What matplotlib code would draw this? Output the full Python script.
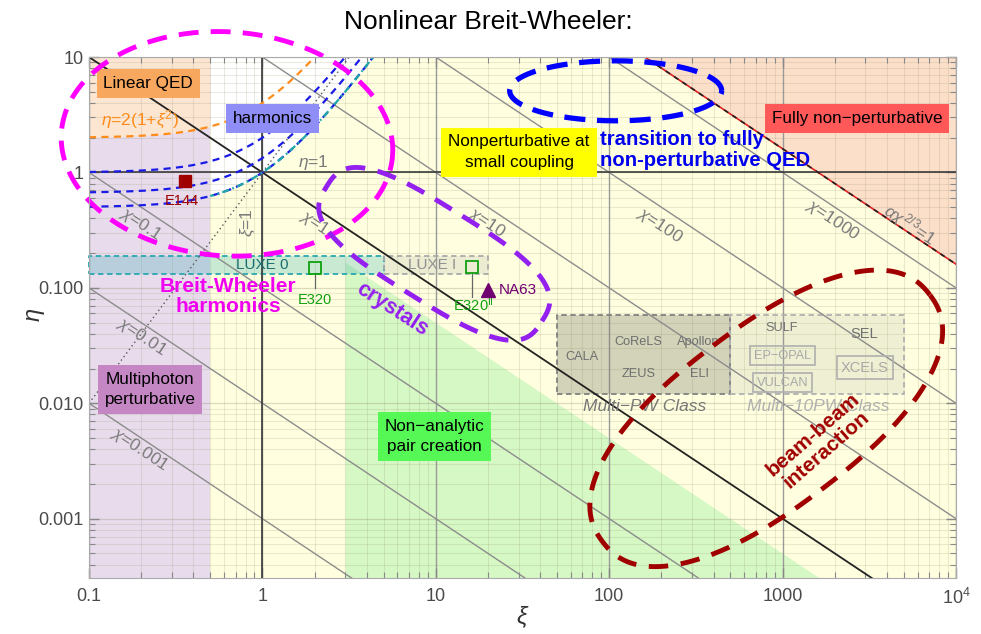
import numpy as np
import matplotlib.pyplot as plt

plt.rcParams['font.family'] = ['Liberation Sans', 'DejaVu Sans']
plt.rcParams['mathtext.fontset'] = 'custom'
plt.rcParams['mathtext.rm'] = 'Liberation Sans'
plt.rcParams['mathtext.it'] = 'Liberation Sans:italic'
plt.rcParams['mathtext.bf'] = 'Liberation Sans:bold'

# ---- data -------------------------------------------------------------
xi_lim = (0.1, 1e4)
eta_lim = (3.06e-4, 10)

x_ticks = [0.1, 1, 10, 100, 1000, 1e4]
x_ticklabels = ['0.1', '1', '10', '100', '1000', '$10^4$']
y_ticks = [0.001, 0.01, 0.1, 1, 10]
y_ticklabels = ['0.001', '0.010', '0.100', '1', '10']

# chi = xi * eta iso-lines and where their labels sit
chi_vals = [0.001, 0.01, 0.1, 1, 10, 100, 1000]
chi_lab_xi = [0.197, 0.2, 0.197, 2.0, 19.7, 196, 1950]
chi_lab_eta = [0.0040, 0.0378, 0.36, 0.367, 0.367, 0.352, 0.389]

# n-photon thresholds eta = 2(1+xi^2)/n
harm_orders = [1, 2, 3, 4]
xi_nonlin = 0.5          # left edge of the nonlinear regime
xi_green = 3.0           # non-analytic region: xi > 3, chi < 0.5
chi_green = 0.5
alpha_fs = 1 / 137.036   # alpha chi^(2/3) = 1

# experiments
exp_names = ['E144', 'E320', 'E320$^{\\rm II}$', 'NA63']
exp_xi = [0.358, 2.0, 16.2, 20.0]
exp_eta = [0.836, 0.15, 0.153, 0.096]

# beam parameter bands (xi_min, xi_max, eta_min, eta_max)
luxe0 = (0.1, 5, 0.133, 0.19)
luxe1 = (5, 20, 0.133, 0.19)
multi_pw = (50, 500, 0.012, 0.058)
multi_10pw = (500, 5000, 0.012, 0.058)

pw_names = ['CALA', 'CoReLS', 'Apollon', 'ZEUS', 'ELI']
pw_xi = [70, 148, 325, 148, 330]
pw_eta = [0.0254, 0.0342, 0.0342, 0.0181, 0.0181]
pw10_names = ['SULF', 'EP\u2212OPAL', 'VULCAN', 'SEL', 'XCELS']
pw10_xi = [993, 1000, 1000, 2944, 2986]
pw10_eta = [0.0452, 0.0259, 0.0151, 0.0401, 0.0204]

# ---- figure -----------------------------------------------------------
fig = plt.figure(figsize=(9.81, 6.34), dpi=100)
ax = fig.add_axes([0.0907, 0.0883, 0.8838, 0.8217])
ax.set_xscale('log')
ax.set_yscale('log')
ax.set_xlim(*xi_lim)
ax.set_ylim(*eta_lim)
ax.set_facecolor('#FFFFE0')

xs = np.logspace(-1, 4, 600)

# regions
ax.fill_between([xi_lim[0], xi_nonlin], eta_lim[0], eta_lim[1], color='#E8DCEC', lw=0, zorder=0.5)
xl = np.logspace(-1, np.log10(xi_nonlin), 100)
ax.fill_between(xl, 2 * (1 + xl**2), eta_lim[1], color='#FCE6D2', lw=0, zorder=0.6)
xw = np.logspace(np.log10(xi_nonlin), np.log10(4.5), 200)
ax.fill_between(xw, 2 * (1 + xw**2) / 4, eta_lim[1], color='white', lw=0, zorder=0.6)
chi_np = alpha_fs ** -1.5
xr = np.logspace(np.log10(chi_np / 10), 4, 100)
ax.fill_between(xr, chi_np / xr, eta_lim[1], color='#FCDFC9', lw=0, zorder=0.6)
xg = np.logspace(np.log10(xi_green), 4, 100)
ax.fill_between(xg, eta_lim[0], chi_green / xg, color='#D6F8C4', lw=0, zorder=0.6)

# grid
for d in x_ticks:
    for m in range(2, 10):
        if d * m < xi_lim[1]:
            ax.axvline(d * m, color='#808060', alpha=0.16, lw=0.8, zorder=1.2)
    ax.axvline(d, color='#9a9a9a', lw=1.0, zorder=1.2)
for d in [1e-4] + y_ticks:
    for m in range(2, 10):
        ax.axhline(d * m, color='#808060', alpha=0.16, lw=0.8, zorder=1.2)
    ax.axhline(d, color='#808060', alpha=0.28, lw=0.9, zorder=1.2)
ax.axvline(1, color='#3a3a3a', lw=1.2, zorder=2.1)
ax.axhline(1, color='#3a3a3a', lw=1.2, zorder=2.1)

# bands
def band(b, fc, ec, alpha):
    ax.fill_between([b[0], b[1]], b[2], b[3], color=fc, alpha=alpha, lw=0, zorder=1.5)
    ax.plot([b[0], b[1], b[1], b[0], b[0]], [b[2], b[2], b[3], b[3], b[2]],
            color=ec, ls=(0, (3, 2)), lw=1.3, zorder=1.6, clip_on=False)

band(luxe0, '#2AA8B0', '#2AA8B0', 0.25)
band(luxe1, '#9a9a9a', '#aaaaaa', 0.18)
band(multi_pw, '#7a7a6a', '#808080', 0.33)
band(multi_10pw, '#9a9a8a', '#b0b0b0', 0.15)

# chi lines
p1 = ax.transData.transform((1, 1))
p2 = ax.transData.transform((10, 0.1))
ang = np.degrees(np.arctan2(p2[1] - p1[1], p2[0] - p1[0]))
for c, lx, ly in zip(chi_vals, chi_lab_xi, chi_lab_eta):
    if c == 1:
        ax.plot(xs, c / xs, color='#222222', lw=1.3, zorder=2)
    else:
        ax.plot(xs, c / xs, color='#8c8c8c', lw=1.0, zorder=2)
    ax.text(lx, ly, f'$\\chi$={c:g}', rotation=ang, color='#7a7a7a', fontsize=12.5,
            ha='center', va='center', rotation_mode='anchor', zorder=2.5)

ax.plot(xs, chi_np / xs, color='#E02020', lw=1.2, zorder=2.2)
ax.plot(xs, chi_np / xs, color='#222222', lw=1.2, ls=(0, (3, 3)), zorder=2.3)
ax.text(5430, 0.352, '$\\alpha\\chi^{2/3}$=1', rotation=ang, color='#7a7a7a', fontsize=12.5,
        ha='center', va='center', rotation_mode='anchor', zorder=2.5)

# harmonic thresholds
xh = np.logspace(-1, 1, 400)
for n in harm_orders:
    col = '#FF8C1A' if n == 1 else '#1A1AE6'
    ax.plot(xh, 2 * (1 + xh**2) / n, color=col, lw=1.6, ls=(0, (3.2, 2.4)), zorder=2.4)
xc = np.logspace(np.log10(xi_nonlin), 1, 200)
ax.plot(xc, 2 * (1 + xc**2) / 4, color='#20A8A8', lw=1.6, ls=(1.5, (3.2, 1.6, 0.8, 1.6)), zorder=2.45)
ax.plot(xs, xs**2, color='#555555', lw=1.0, ls=(0, (1, 2.2)), zorder=2.4)
ax.text(0.197, 2.86, '$\\eta$=2(1+$\\xi^2$)', color='#FF8C1A', fontsize=12.5, ha='center',
        va='center', zorder=3)
ax.text(1.96, 1.21, '$\\eta$=1', color='#7a7a7a', fontsize=12.5, ha='center', va='center', zorder=3)
ax.text(0.826, 0.367, '$\\xi$=1', color='#7a7a7a', fontsize=12.5, ha='center', va='center',
        rotation=90, zorder=3)

# experiments
ax.plot(exp_xi[0], exp_eta[0], 's', color='#A00000', ms=8, zorder=3)
ax.text(0.345, 0.565, exp_names[0], color='#A00000', fontsize=10.5, ha='center', va='center', zorder=3)
for i in (1, 2):
    ax.plot(exp_xi[i], exp_eta[i], 's', mfc='none', mec='#10A010', mew=1.3, ms=8, zorder=3)
    ax.plot([exp_xi[i], exp_xi[i]], [0.135, 0.1 if i == 1 else 0.084], color='#666666', lw=0.9, zorder=2.9)
ax.text(2.0, 0.079, exp_names[1], color='#10A010', fontsize=10.5, ha='center', va='center', zorder=3)
ax.text(16.4, 0.0714, exp_names[2], color='#10A010', fontsize=10.5, ha='center', va='center', zorder=3)
ax.plot(exp_xi[3], exp_eta[3], '^', color='#700070', ms=10, zorder=3)
ax.text(23.1, 0.096, exp_names[3], color='#700070', fontsize=11, ha='left', va='center', zorder=3)

ax.text(1.0, 0.159, 'LUXE 0', color='#1A6E70', fontsize=11, ha='center', va='center', zorder=3)
ax.text(9.5, 0.159, 'LUXE I', color='#909090', fontsize=11, ha='center', va='center', zorder=3)

for nm, x, y in zip(pw_names, pw_xi, pw_eta):
    ax.text(x, y, nm, color='#6e6e6e', fontsize=9.2, ha='center', va='center', zorder=3)
for nm, x, y in zip(pw10_names, pw10_xi, pw10_eta):
    boxed = nm in ('EP\u2212OPAL', 'VULCAN', 'XCELS')
    col = '#a8a8a8' if boxed else '#707070'
    fs = 10.5 if nm in ('SEL', 'XCELS') else 9.2
    bb = dict(boxstyle='square,pad=0.3', fc='none', ec='#b0b0b0', lw=1.2) if boxed else None
    ax.text(x, y, nm, color=col, fontsize=fs, ha='center', va='center', bbox=bb, zorder=3)
ax.text(161, 0.00935, 'Multi\u2212PW Class', color='#777777', fontsize=12.5, style='italic',
        ha='center', va='center', zorder=3)
ax.text(1600, 0.00935, 'Multi\u221210PW Class', color='#b0b0b0', fontsize=12.5, style='italic',
        ha='center', va='center', zorder=3)

# regime boxes
def box(x, y, s, fc):
    ax.text(x, y, s, fontsize=12.3, ha='center', va='center', color='black', linespacing=1.45,
            bbox=dict(boxstyle='square,pad=0.4', fc=fc, ec='none'), zorder=3.5)

box(0.22, 5.93, 'Linear QED', '#F8A85E')
box(1.14, 2.95, 'harmonics', '#8E8EF6')
box(30.2, 1.5, 'Nonperturbative at\nsmall coupling', '#FFFF00')
box(2686, 2.95, 'Fully non\u2212perturbative', '#FF5858')
box(0.225, 0.0131, 'Multiphoton\nperturbative', '#C487C4')
box(9.8, 0.00515, 'Non\u2212analytic\npair creation', '#55F855')

ax.text(88.5, 1.57, 'transition to fully\nnon-perturbative QED', color='#0000EE', fontsize=14.6,
        fontweight='bold', ha='left', va='center', linespacing=1.15, zorder=3.5)
ax.text(0.634, 0.084, 'Breit-Wheeler\nharmonics', color='#F000F0', fontsize=15,
        fontweight='bold', ha='center', va='center', linespacing=1.1, zorder=3.5)
ax.text(5.58, 0.0648, 'crystals', color='#9420F0', fontsize=15.5, fontweight='bold',
        ha='center', va='center', rotation=-33, zorder=3.5)
ax.text(1644, 0.00457, 'beam-beam\ninteraction', color='#A00000', fontsize=15,
        fontweight='bold', ha='center', va='center', rotation=41, linespacing=1.1, zorder=3.5)

# dashed outlines (pixel-sized superellipses around a data point)
def blob(xc0, yc0, a, b, rot, p, **kw):
    cx, cy = ax.transData.transform((xc0, yc0))
    t = np.linspace(0, 2 * np.pi, 500)
    c, s = np.cos(t), np.sin(t)
    u = a * np.sign(c) * np.abs(c) ** (2 / p)
    v = b * np.sign(s) * np.abs(s) ** (2 / p)
    th = np.radians(rot)
    px = cx + u * np.cos(th) - v * np.sin(th)
    py = cy + u * np.sin(th) + v * np.cos(th)
    pts = ax.transData.inverted().transform(np.column_stack([px, py]))
    ax.plot(pts[:, 0], pts[:, 1], clip_on=False, zorder=4, **kw)

blob(0.625, 1.77, 166, 112, -4, 2, color='#FF00FF', lw=3.5, ls=(0, (4.1, 2.5)))
blob(109, 5.1, 106, 30, 0, 2, color='#0000FF', lw=3.8, ls=(0, (4.0, 2.2)))
blob(9.8, 0.197, 127, 47, -32, 3, color='#9420F0', lw=3.5, ls=(0, (4.0, 2.6)))
blob(805, 0.0074, 205, 90, 37, 2.3, color='#A00000', lw=3.5, ls=(0, (4.0, 2.6)))

# axes styling
ax.set_xticks(x_ticks, x_ticklabels)
ax.set_yticks(y_ticks, y_ticklabels)
ax.tick_params(which='both', direction='in', top=True, right=True, color='#888888',
               labelcolor='#4a4a4a', labelsize=13)
ax.tick_params(which='major', length=7, width=1)
ax.tick_params(which='minor', length=4, width=0.8)
ax.tick_params(axis='x', pad=7)
ax.tick_params(axis='y', pad=4)
for sp in ax.spines.values():
    sp.set_color('#aaaaaa')
    sp.set_zorder(5)

ax.set_xlabel('$\\xi$', fontsize=17, color='#333333')
ax.set_ylabel('$\\eta$', fontsize=17, color='#333333', rotation=90)
ax.xaxis.set_label_coords(0.5, -0.05)
ax.yaxis.set_label_coords(-0.048, 0.505)
fig.text(0.4975, 0.965, 'Nonlinear Breit-Wheeler:', fontsize=19, ha='center', va='center')

fig.savefig('out.png', dpi=100)
